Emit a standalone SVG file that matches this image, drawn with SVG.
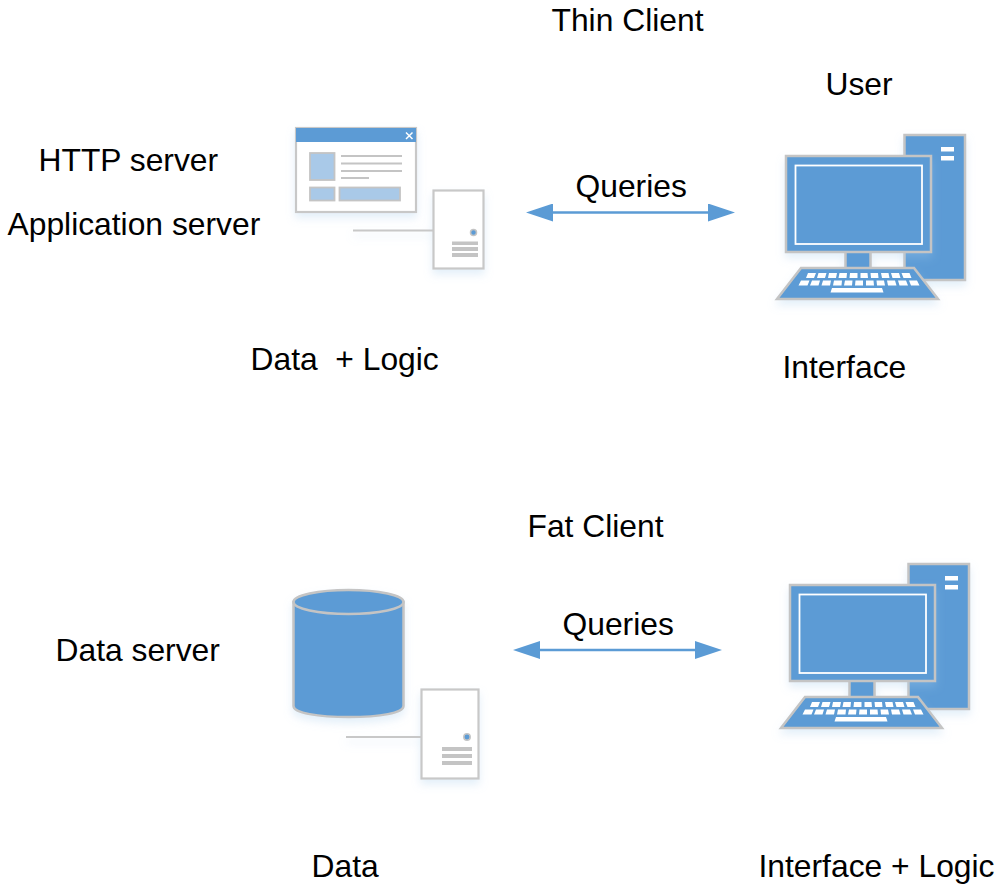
<svg xmlns="http://www.w3.org/2000/svg" width="996" height="884" viewBox="0 0 996 884">
<style>
text{font-family:"Liberation Sans",Arial,sans-serif;font-size:31.8px;fill:#000;white-space:pre}
.b{fill:#5b9bd5;stroke:#c4c4c4;stroke-width:2.500}
.w{fill:#fff;stroke:#c8c8c8;stroke-width:2.200}
.l{fill:#a9c9e8;stroke:#c4c4c4;stroke-width:1.800}
.g{fill:#c4c4c4}
.k{fill:#fff}
.sh{filter:url(#s)}
.ln{stroke:#c8c8c8;stroke-width:2;fill:none}
.c{stroke:#5b9bd5;stroke-width:2.500;fill:none;marker-start:url(#as);marker-end:url(#ae)}
</style>
<defs>
<filter id="s" x="-20%" y="-20%" width="140%" height="140%">
<feGaussianBlur in="SourceAlpha" stdDeviation="4"/>
<feOffset dy="5"/>
<feColorMatrix values="0 0 0 0 .36 0 0 0 0 .6 0 0 0 0 .84 0 0 0 .3 0"/>
<feMerge><feMergeNode/><feMergeNode in="SourceGraphic"/></feMerge>
</filter>
<marker id="ae" markerUnits="userSpaceOnUse" markerWidth="27" markerHeight="18" refX="21" refY="9" orient="auto"><path d="M0 0L27 9L0 18Z" fill="#5b9bd5"/></marker>
<marker id="as" markerUnits="userSpaceOnUse" markerWidth="27" markerHeight="18" refX="6" refY="9" orient="auto"><path d="M27 0L0 9L27 18Z" fill="#5b9bd5"/></marker>
<g id="pc">
<g class="sh">
<rect class="b" x="904.500" y="135" width="60.500" height="145"/>
<rect class="k" x="941" y="147" width="13" height="4.500"/>
<rect class="k" x="941" y="156" width="13" height="4.500"/>
</g>
<g class="sh">
<rect class="b" x="845.500" y="250" width="25" height="20"/>
<rect class="b" x="786" y="156" width="145" height="96"/>
<rect x="795.500" y="165.500" width="126.500" height="78.500" fill="none" stroke="#fff" stroke-width="1.800"/>
<path class="b" d="M801 268H914L938 299H777Z"/>
<g class="k">
<path d="M808 273h8l-2 5h-8zM818.500 273h8l-1.500 5h-8zM829 273h8l-1 5h-8zM839.500 273h7.500l-.5 5h-8zM850 273h7.500v5h-8zM860.500 273h7l.5 5h-7.500zM870.500 273h7.500l.5 5h-7.500zM881 273h7.500l1 5h-7.500zM891 273h8l1.500 5h-8zM901.500 273h8l2 5h-8z"/>
<path d="M801 280.500h8.500l-2 5h-9zM812 280.500h8l-1.500 5h-8.500zM823 280.500h8l-1 5h-8.500zM834 280.500h8l-.5 5h-8.500zM845 280.500h7.500l-.5 5h-8zM855.500 280.500h7.500v5h-8zM866 280.500h7.500l.5 5h-8zM876.500 280.500h7.500l1 5h-8zM887 280.500h8l1.500 5h-8.500zM898 280.500h8l2 5h-8.500zM909 280.500h8l2.500 5h-8.500z"/>
<path d="M832 288h50l1.500 4.500h-53z"/>
</g>
</g>
</g>
</defs>
<g id="connectors">
<line class="c" x1="532" y1="212.500" x2="729" y2="212.500"/>
<line class="c" x1="519" y1="650" x2="716" y2="650"/>
</g>
<g id="web-server">
<g class="sh">
<rect class="w" x="296" y="128" width="120" height="84"/>
<rect x="296" y="128" width="120" height="14" fill="#5b9bd5"/>
<path d="M406 132.500l6.500 6.500M412.500 132.500l-6.500 6.500" stroke="#fff" stroke-width="1.500"/>
<rect class="l" x="310" y="153" width="24.500" height="27"/>
<rect class="l" x="310" y="187.500" width="24.500" height="13"/>
<rect class="l" x="339.500" y="187.500" width="60.500" height="13"/>
<rect class="g" x="341" y="155" width="61" height="2"/>
<rect class="g" x="341" y="162.500" width="61" height="2"/>
<rect class="g" x="341" y="170" width="61" height="2"/>
<rect class="g" x="341" y="177" width="28" height="2"/>
</g>
<g class="sh">
<line class="ln" x1="353" y1="230.500" x2="433" y2="230.500"/>
<rect class="w" x="433.500" y="190.500" width="50" height="78"/>
<circle cx="473.500" cy="232.500" r="3" fill="#5b9bd5" stroke="#c4c4c4" stroke-width="1.500"/>
<rect class="g" x="452" y="241.500" width="26" height="3.500"/>
<rect class="g" x="452" y="247" width="26" height="4"/>
<rect class="g" x="452" y="253" width="26" height="4"/>
</g>
</g>
<g id="thin-client-pc"><use href="#pc"/></g>
<g id="database">
<g class="sh">
<path class="b" d="M293.500 602V706C293.500 713 318 717 349 717S403.500 713 403.500 706V602Z"/>
<ellipse class="b" cx="348.500" cy="602" rx="55" ry="12"/>
</g>
<g class="sh">
<line class="ln" x1="346" y1="737" x2="421" y2="737"/>
<rect class="w" x="421.500" y="689.500" width="57" height="89"/>
<circle cx="467" cy="737" r="3.200" fill="#5b9bd5" stroke="#c4c4c4" stroke-width="1.500"/>
<rect class="g" x="442" y="747" width="30" height="4"/>
<rect class="g" x="442" y="754" width="30" height="4"/>
<rect class="g" x="442" y="761" width="30" height="4"/>
</g>
</g>
<g id="fat-client-pc"><use href="#pc" x="4" y="429"/></g>
<g id="labels">
<text x="551.500" y="31">Thin Client</text>
<text x="825.500" y="95">User</text>
<text x="38.500" y="171">HTTP server</text>
<text x="7.500" y="235">Application server</text>
<text x="575.500" y="197">Queries</text>
<text x="250.500" y="370">Data  + Logic</text>
<text x="782.500" y="378">Interface</text>
<text x="527.500" y="537">Fat Client</text>
<text x="562.500" y="635">Queries</text>
<text x="55.500" y="661">Data server</text>
<text x="311.500" y="877">Data</text>
<text x="758.500" y="877">Interface + Logic</text>
</g>
</svg>
